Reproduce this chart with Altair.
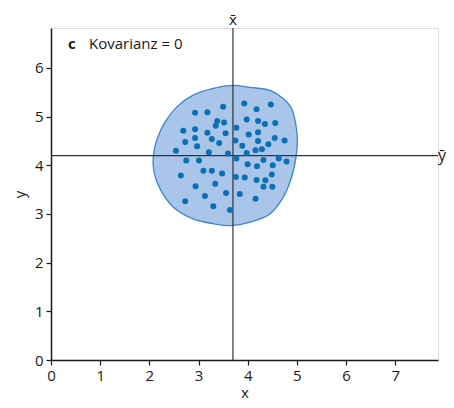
import altair as alt
import pandas as pd

# scatter points
pts_x = [3.50, 3.93, 4.18, 4.47, 2.93, 3.18, 3.38, 3.52, 3.35, 3.98, 4.21, 4.35, 4.56,
         2.69, 2.93, 3.18, 3.55, 3.77, 4.02, 4.21, 2.73, 2.93, 3.27, 3.42, 2.97, 3.75,
         3.89, 4.21, 4.42, 4.55, 4.75, 2.54, 3.21, 3.60, 3.98, 4.16, 4.29, 3.77, 2.75,
         3.01, 4.00, 4.19, 4.32, 4.51, 4.63, 4.79, 3.10, 3.27, 3.48, 2.64, 3.76, 3.94,
         4.18, 4.36, 4.49, 2.94, 3.34, 4.32, 4.50, 3.56, 3.13, 3.84, 2.73, 3.30, 4.16, 3.64]
pts_y = [5.20, 5.27, 5.15, 5.25, 5.08, 5.09, 4.91, 4.88, 4.81, 4.94, 4.91, 4.85, 4.87,
         4.71, 4.74, 4.67, 4.66, 4.77, 4.63, 4.68, 4.48, 4.56, 4.54, 4.46, 4.39, 4.51,
         4.40, 4.50, 4.43, 4.56, 4.51, 4.30, 4.27, 4.24, 4.25, 4.31, 4.33, 4.14, 4.10,
         4.10, 4.02, 3.98, 4.11, 4.00, 4.14, 4.08, 3.89, 3.89, 3.83, 3.79, 3.76, 3.75,
         3.70, 3.69, 3.81, 3.57, 3.62, 3.56, 3.56, 3.43, 3.37, 3.41, 3.26, 3.16, 3.31, 3.08]

# outline of the shaded region
blob_x = [3.70, 4.05, 4.45, 4.72, 4.89, 4.98, 5.01, 4.98, 4.89, 4.72, 4.45, 4.05,
          3.67, 3.30, 2.89, 2.49, 2.22, 2.09, 2.08, 2.15, 2.32, 2.56, 2.89, 3.30]
blob_y = [5.64, 5.60, 5.54, 5.37, 5.17, 4.83, 4.49, 4.15, 3.75, 3.34, 3.00, 2.83,
          2.76, 2.80, 2.90, 3.14, 3.51, 3.88, 4.18, 4.52, 4.89, 5.20, 5.44, 5.58]

x_mean = 3.70
y_mean = 4.20
x_max = 7.87
y_max = 6.82
x_ticks = [0, 1, 2, 3, 4, 5, 6, 7]
y_ticks = [0, 1, 2, 3, 4, 5, 6]
title_letter = "c"
title_text = "Kovarianz = 0"

FONT = "Open Sans"

points = pd.DataFrame({"x": pts_x, "y": pts_y})
blob = pd.DataFrame({"x": blob_x, "y": blob_y, "i": list(range(len(blob_x)))})
means = pd.DataFrame({"xm": [x_mean], "ym": [y_mean], "x0": [0.0], "xmax": [x_max],
                      "y0": [0.0], "ymax": [y_max]})

xs = alt.Scale(domain=[0, x_max], nice=False, zero=False)
ys = alt.Scale(domain=[0, y_max], nice=False, zero=False)

xaxis = alt.Axis(values=x_ticks, title="x", grid=False, domainColor="#1a1a1a",
                 domainWidth=1.5, tickColor="#1a1a1a", tickWidth=1.2, tickSize=5,
                 labelPadding=3, labelFont=FONT, labelFontSize=15, labelColor="#1a1a1a",
                 titleFont=FONT, titleFontSize=15, titleFontWeight="normal",
                 titleColor="#1a1a1a", titlePadding=2, labelFlush=False)
yaxis = alt.Axis(values=y_ticks, title="y", grid=False, domainColor="#1a1a1a",
                 domainWidth=1.5, tickColor="#1a1a1a", tickWidth=1.2, tickSize=5,
                 labelPadding=3, labelFont=FONT, labelFontSize=15, labelColor="#1a1a1a",
                 titleFont=FONT, titleFontSize=15, titleFontWeight="normal",
                 titleColor="#1a1a1a", titlePadding=7, labelFlush=False)

blob_layer = alt.Chart(blob).mark_line(
    interpolate="cardinal-closed", fill="#a9c5ea", stroke="#3a88cc", strokeWidth=1.3
).encode(
    x=alt.X("x:Q", scale=xs, axis=xaxis),
    y=alt.Y("y:Q", scale=ys, axis=yaxis),
    order="i:Q",
)

hline = alt.Chart(means).mark_rule(color="#333333", strokeWidth=1.2).encode(
    x="x0:Q", x2="xmax:Q", y="ym:Q")
vline = alt.Chart(means).mark_rule(color="#333333", strokeWidth=1.2).encode(
    x="xm:Q", y="y0:Q", y2="ymax:Q")

dots = alt.Chart(points).mark_circle(size=36, color="#0b6fb4", opacity=1).encode(
    x="x:Q", y="y:Q")

xbar_label = alt.Chart(means).mark_text(
    text="x\u0304", font=FONT, fontSize=15, color="#1a1a1a", align="center",
    baseline="alphabetic").encode(x="xm:Q", y=alt.value(-3))
ybar_label = alt.Chart(means).mark_text(
    text="\u0233", font=FONT, fontSize=16, color="#1a1a1a", align="center",
    baseline="middle").encode(x=alt.value(391), y="ym:Q")

t1 = alt.Chart(means).mark_text(
    text=title_letter, font=FONT, fontSize=15, fontWeight="bold", color="#1a1a1a",
    align="left", baseline="middle").encode(x=alt.value(17), y=alt.value(16))
t2 = alt.Chart(means).mark_text(
    text=title_text, font=FONT, fontSize=15, color="#1a1a1a",
    align="left", baseline="middle").encode(x=alt.value(38), y=alt.value(16))

chart = alt.layer(blob_layer, hline, vline, dots, xbar_label, ybar_label, t1, t2).properties(
    width=387, height=332,
    autosize=alt.AutoSizeParams(type="none"),
    padding={"left": 43, "top": 20, "right": 8, "bottom": 40},
).configure_view(stroke=None).configure(background="white")

chart.save("out.html", embed_options={"renderer": "svg", "actions": False})
